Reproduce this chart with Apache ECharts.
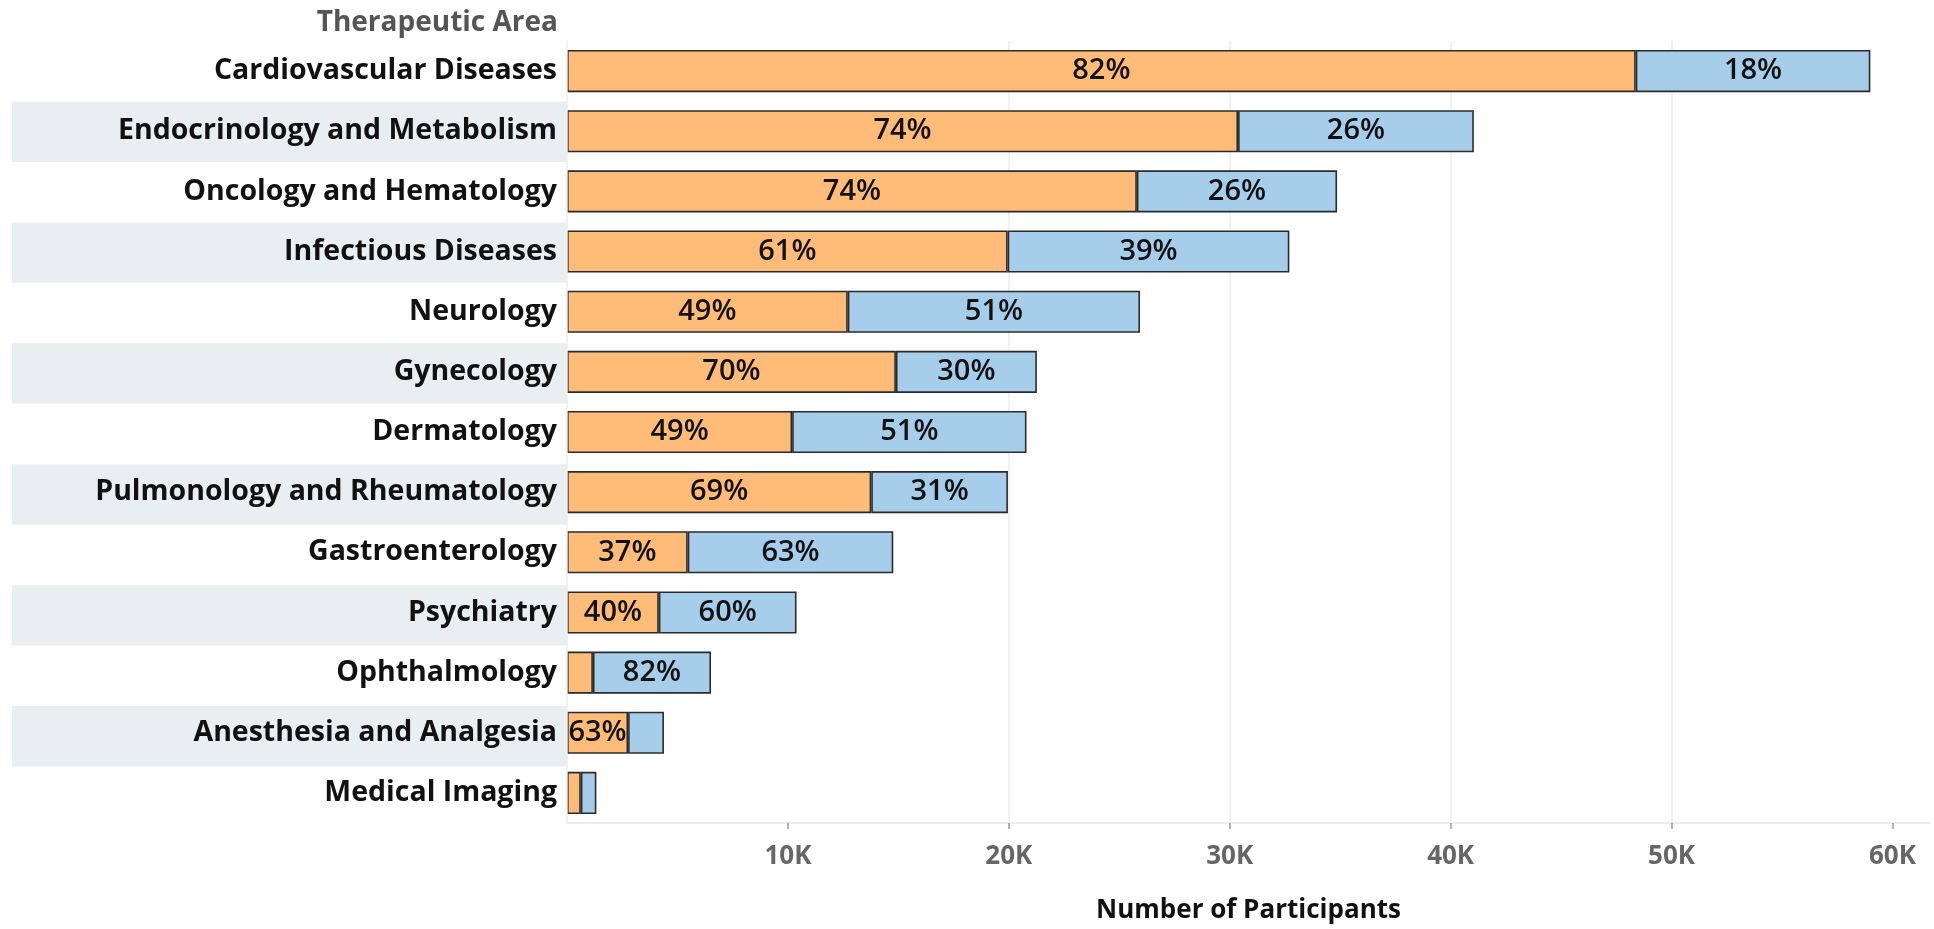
<!DOCTYPE html>
<html>
<head>
<meta charset="utf-8">
<title>Participants by Therapeutic Area</title>
<script src="https://cdn.jsdelivr.net/npm/echarts@6/dist/echarts.min.js"></script>
<style>
  html, body { margin: 0; padding: 0; background: #fff; }
  #chart { width: 1934px; height: 929px; }
</style>
</head>
<body>
<div id="chart"></div>
<script>
// Therapeutic areas, top to bottom
const categories = [
  'Cardiovascular Diseases',
  'Endocrinology and Metabolism',
  'Oncology and Hematology',
  'Infectious Diseases',
  'Neurology',
  'Gynecology',
  'Dermatology',
  'Pulmonology and Rheumatology',
  'Gastroenterology',
  'Psychiatry',
  'Ophthalmology',
  'Anesthesia and Analgesia',
  'Medical Imaging'
];

// Total participants per area
const totals = [59000, 41050, 34860, 32700, 25940, 21270, 20800, 19960, 14770, 10390, 6520, 4390, 1330];

// Share (%) of each total held by the first (orange) segment
const primaryShare = [82, 74, 74, 61, 49, 70, 49, 69, 37, 40, 18, 63, 47];

// Axis ticks
const xTicks = [10000, 20000, 30000, 40000, 50000, 60000];
const xTickLabels = ['10K', '20K', '30K', '40K', '50K', '60K'];

// Segments narrower than this carry no percentage label
const labelMinValue = 2000;

const primaryValues = totals.map((t, i) => t * primaryShare[i] / 100);
const secondaryValues = totals.map((t, i) => t - primaryValues[i]);

const FONT = '"Open Sans", "Noto Sans", sans-serif';

function segmentLabel(shares) {
  return {
    show: true,
    position: 'inside',
    color: '#111',
    fontFamily: FONT,
    fontSize: 29,
    fontWeight: 600,
    formatter: p => (p.value >= labelMinValue ? shares[p.dataIndex] + '%' : '')
  };
}

const chart = echarts.init(document.getElementById('chart'), null, { renderer: 'canvas' });

chart.setOption({
  animation: false,
  backgroundColor: '#fff',
  title: {
    text: 'Therapeutic Area',
    right: 1371,
    top: 4,
    textStyle: { color: '#555', fontFamily: FONT, fontSize: 28, fontWeight: 700 }
  },
  grid: [
    // plot area
    { left: 567, right: 4, top: 41, bottom: 102, containLabel: false },
    // striped header column behind the area names
    { left: 12, width: 555, top: 41, bottom: 102, containLabel: false }
  ],
  xAxis: [
    {
      gridIndex: 0,
      type: 'value',
      min: 0,
      max: 61700,
      interval: 10000,
      axisLine: { show: true, lineStyle: { color: '#e6e6e6', width: 1.5 } },
      axisTick: {
        show: true,
        length: 6,
        customValues: xTicks,
        lineStyle: { color: '#999', width: 1.5 }
      },
      axisLabel: {
        customValues: xTicks,
        margin: 21,
        color: '#666',
        fontFamily: FONT,
        fontSize: 26,
        fontWeight: 700,
        formatter: v => xTickLabels[xTicks.indexOf(v)] || ''
      },
      splitLine: {
        show: true,
        showMinLine: false,
        showMaxLine: false,
        lineStyle: { color: '#ececec', width: 1.5 }
      },
      name: 'Number of Participants',
      nameLocation: 'middle',
      nameGap: 75,
      nameTextStyle: { color: '#111', fontFamily: FONT, fontSize: 26, fontWeight: 700 }
    },
    {
      gridIndex: 1,
      type: 'value',
      show: false
    }
  ],
  yAxis: [
    {
      gridIndex: 0,
      type: 'category',
      data: categories,
      inverse: true,
      axisLine: { show: true, lineStyle: { color: '#eeeeee', width: 1.5 } },
      axisTick: { show: false },
      axisLabel: {
        margin: 10,
        color: '#111',
        fontFamily: FONT,
        fontSize: 28.5,
        fontWeight: 700
      },
      z: 5
    },
    {
      gridIndex: 1,
      type: 'category',
      data: categories,
      inverse: true,
      axisLine: { show: false },
      axisTick: { show: false },
      axisLabel: { show: false },
      splitArea: {
        show: true,
        areaStyle: { color: ['rgba(255,255,255,0)', '#e9eff1'] }
      },
      z: 0
    }
  ],
  series: [
    {
      name: 'Primary',
      type: 'bar',
      stack: 'total',
      xAxisIndex: 0,
      yAxisIndex: 0,
      barCategoryGap: '30%',
      data: primaryValues,
      itemStyle: { color: '#ffbb78', borderColor: '#2b2b2b', borderWidth: 1.6 },
      label: segmentLabel(primaryShare)
    },
    {
      name: 'Secondary',
      type: 'bar',
      stack: 'total',
      xAxisIndex: 0,
      yAxisIndex: 0,
      barCategoryGap: '30%',
      data: secondaryValues,
      itemStyle: { color: '#a6cde9', borderColor: '#2b2b2b', borderWidth: 1.6 },
      label: segmentLabel(primaryShare.map(s => 100 - s))
    }
  ]
});
</script>
</body>
</html>
